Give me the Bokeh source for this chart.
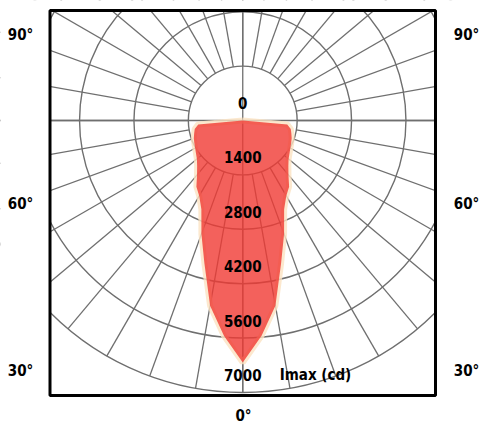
import numpy as np
from bokeh.plotting import figure
from bokeh.models import Range1d
from bokeh.core.properties import value
from bokeh.embed import file_html
from bokeh.resources import INLINE

# ---------------- data ----------------
# polar intensity curve (angle from the downward axis, symmetric), cd
angles_deg = [0, 5, 10, 15, 20, 25, 30, 35, 40, 45, 50, 55, 60, 65, 70, 75, 80, 85, 90]
intensity_cd = [6230, 5560, 4840, 3810, 3110, 2520, 2240, 2080, 1830, 1660,
                1540, 1470, 1415, 1375, 1340, 1295, 1255, 1150, 0]
ring_values = [0, 1400, 2800, 4200, 5600, 7000]
ring_labels = ["0", "1400", "2800", "4200", "5600", "7000"]
side_labels = ["90°", "60°", "30°"]
bottom_label = "0°"
unit_label = "Imax (cd)"
radial_step_deg = 10

# ---------------- geometry (page pixels) ----------------
W, H = 480, 427
CX, CY = 242.25, 120.0            # pole position
BOX_L, BOX_R, BOX_T, BOX_B = 49.5, 435.0, 10.0, 395.0
C = 1400 / 54.4                   # cd per pixel


def dx(px):
    return (px - CX) * C


def dy(py):
    return (CY - py) * C


p = figure(width=W, height=H, output_backend="svg", toolbar_location=None,
           x_axis_location=None, y_axis_location=None,
           x_range=Range1d(dx(0), dx(W)), y_range=Range1d(dy(H), dy(0)),
           min_border_left=0, min_border_right=0, min_border_top=0, min_border_bottom=0)
p.grid.visible = False
p.background_fill_color = "white"
p.border_fill_color = "white"
p.outline_line_color = None

GRID = "#6f6f6f"
r_in = ring_values[1]
r_out = ring_values[-1]

# radial lines
angs = np.deg2rad(np.arange(0, 360, radial_step_deg))
p.segment(x0=r_in * np.sin(angs), y0=r_in * np.cos(angs),
          x1=r_out * np.sin(angs), y1=r_out * np.cos(angs),
          line_color=GRID, line_width=1.3)
# axes through pole
big = 20000
p.segment(x0=[-big, 0], y0=[0, -r_out], x1=[big, 0], y1=[0, big],
          line_color=GRID, line_width=1.3)
# rings
p.circle(x=[0] * (len(ring_values) - 1), y=[0] * (len(ring_values) - 1),
         radius=ring_values[1:], fill_color=None, line_color=GRID, line_width=1.4)

# intensity curve
a = np.deg2rad(np.array(angles_deg, dtype=float))
I = np.array(intensity_cd, dtype=float)
full_a = np.concatenate([-a[::-1], a[1:]])
full_I = np.concatenate([I[::-1], I[1:]])
xs = full_I * np.sin(full_a)
ys = -full_I * np.cos(full_a)
p.line(xs, ys, line_color="#fbe2c2", line_width=6, line_alpha=0.8)
p.patch(xs, ys, fill_color="#f03a33", fill_alpha=0.8, line_color=None)

# white mask outside the box (overshooting the canvas), then the box
M = 60
p.quad(left=[dx(-M), dx(BOX_R), dx(-M), dx(-M)],
       right=[dx(BOX_L), dx(W + M), dx(W + M), dx(W + M)],
       top=[dy(-M), dy(-M), dy(-M), dy(BOX_B)],
       bottom=[dy(H + M), dy(H + M), dy(BOX_T), dy(H + M)],
       fill_color="white", line_color="white", line_width=1)
p.quad(left=[dx(BOX_L)], right=[dx(BOX_R)], top=[dy(BOX_T)], bottom=[dy(BOX_B)],
       fill_color=None, line_color="black", line_width=3)

FONT = value("DejaVu Sans Condensed")
TXT = dict(text_font=FONT, text_font_style="bold", text_font_size="15px",
           text_align="center", text_baseline="middle", text_color="black")

off = 17.5 * C
p.text(x=[0] * len(ring_values), y=[-v + off for v in ring_values], text=ring_labels, **TXT)
p.text(x=[dx(315)], y=[-ring_values[-1] + off], text=[unit_label], **TXT)

# outside labels
side_py = [34, 203, 370]
p.text(x=[dx(20)] * 3 + [dx(466)] * 3,
       y=[dy(v) for v in side_py] * 2,
       text=side_labels * 2, **TXT)
p.text(x=[dx(243)], y=[dy(415)], text=[bottom_label], **TXT)

open("out.html", "w").write(file_html(p, INLINE))
